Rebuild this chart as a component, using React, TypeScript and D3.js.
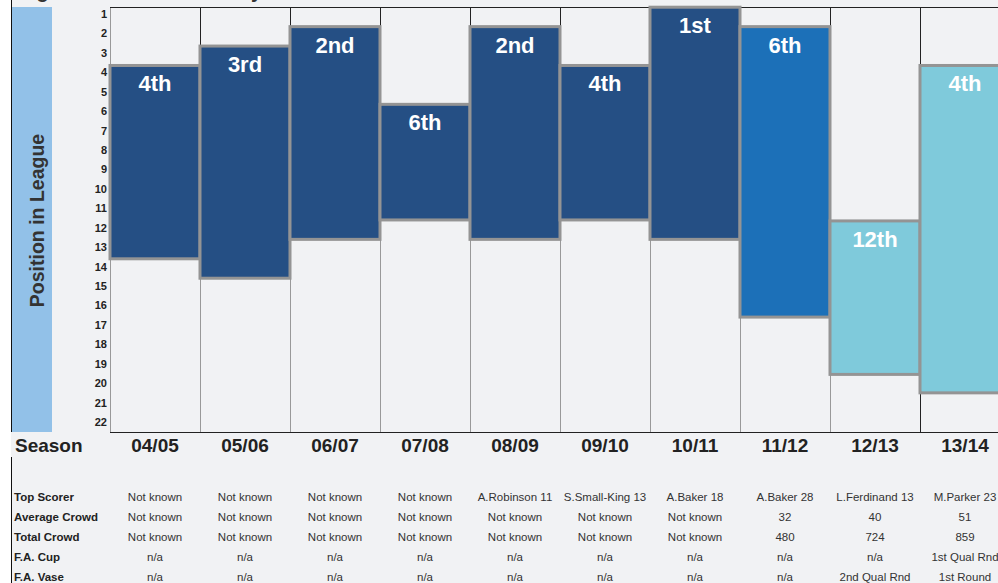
import React, { useEffect, useRef } from "react";
import * as d3 from "d3";

// seasons and league finishes
const seasons = ["04/05", "05/06", "06/07", "07/08", "08/09", "09/10", "10/11", "11/12", "12/13", "13/14"];
const finishLabels = ["4th", "3rd", "2nd", "6th", "2nd", "4th", "1st", "6th", "12th", "4th"];
// floating bar extents, in league-position units
const barTop = [3.65, 2.65, 1.65, 5.65, 1.65, 3.65, 0.65, 1.65, 11.65, 3.65];
const barBottom = [13.6, 14.6, 12.6, 11.6, 12.6, 11.6, 12.6, 16.6, 19.55, 20.5];
// which league tier the bar belongs to (picks the colour)
const barTier = [0, 0, 0, 0, 0, 0, 0, 1, 2, 2];
const positionTicks = d3.range(1, 23);

// table under the chart
const tableRowLabels = ["Top Scorer", "Average Crowd", "Total Crowd", "F.A. Cup", "F.A. Vase"];
const topScorer = ["Not known", "Not known", "Not known", "Not known", "A.Robinson 11", "S.Small-King 13", "A.Baker 18", "A.Baker 28", "L.Ferdinand 13", "M.Parker 23"];
const averageCrowd = ["Not known", "Not known", "Not known", "Not known", "Not known", "Not known", "Not known", "32", "40", "51"];
const totalCrowd = ["Not known", "Not known", "Not known", "Not known", "Not known", "Not known", "Not known", "480", "724", "859"];
const faCup = ["n/a", "n/a", "n/a", "n/a", "n/a", "n/a", "n/a", "n/a", "n/a", "1st Qual Rnd"];
const faVase = ["n/a", "n/a", "n/a", "n/a", "n/a", "n/a", "n/a", "n/a", "2nd Qual Rnd", "1st Round"];
const tableRows = [topScorer, averageCrowd, totalCrowd, faCup, faVase];

const tierColours = ["#254F84", "#1C70B8", "#7FCADB"];
const FONT = "Liberation Sans, Arial, sans-serif";

const App: React.FC = () => {
  const svgRef = useRef<SVGSVGElement | null>(null);

  useEffect(() => {
    if (!svgRef.current) return;
    const width = 998;
    const height = 583;
    const frameTop = 7;
    const frameBottom = 432;
    const plotLeft = 110;

    const svg = d3.select(svgRef.current);
    svg.selectAll("*").remove();
    svg.attr("width", width).attr("height", height);

    svg.append("rect").attr("width", width).attr("height", height).attr("fill", "#F1F2F4");
    // white strip on the far left
    svg.append("rect").attr("width", 11).attr("height", height).attr("fill", "#FFFFFF");

    const x = d3.scaleBand<string>().domain(seasons).range([plotLeft, plotLeft + 90 * seasons.length]).padding(0);
    const y = d3.scaleLinear().domain([1, 22]).range([14, 422]);

    // title, mostly above the top edge of the picture
    svg
      .append("text")
      .attr("x", 2)
      .attr("y", -2)
      .attr("font-family", FONT)
      .attr("font-weight", "bold")
      .attr("font-size", "20px")
      .attr("fill", "#333")
      .text("League Position Season by Season");

    // left border lines
    svg.append("line").attr("x1", 11.5).attr("x2", 11.5).attr("y1", 0).attr("y2", frameBottom).attr("stroke", "#111");
    svg.append("line").attr("x1", 11.5).attr("x2", 11.5).attr("y1", 457).attr("y2", height).attr("stroke", "#111");

    // blue axis-title band
    svg
      .append("rect")
      .attr("x", 12)
      .attr("y", frameTop)
      .attr("width", 40)
      .attr("height", frameBottom - frameTop)
      .attr("fill", "#92C1E8");

    svg
      .append("text")
      .attr("transform", `translate(44,${(frameTop + frameBottom) / 2 + 1}) rotate(-90)`)
      .attr("text-anchor", "middle")
      .attr("font-family", FONT)
      .attr("font-weight", "bold")
      .attr("font-size", "19.5px")
      .attr("fill", "#333")
      .text("Position in League");

    // column separators: dark above the bars, grey below
    seasons.forEach((s, i) => {
      const left = x(s)!;
      const prevTop = i > 0 ? barTop[i - 1] : barTop[i];
      const prevBottom = i > 0 ? barBottom[i - 1] : barBottom[i];
      const upper = Math.min(barTop[i], prevTop);
      const lower = Math.max(barBottom[i], prevBottom);
      svg
        .append("line")
        .attr("x1", left + 0.5)
        .attr("x2", left + 0.5)
        .attr("y1", frameTop)
        .attr("y2", y(upper))
        .attr("stroke", i === 0 ? "#999" : "#222");
      svg
        .append("line")
        .attr("x1", left + 0.5)
        .attr("x2", left + 0.5)
        .attr("y1", y(lower))
        .attr("y2", frameBottom)
        .attr("stroke", i === seasons.length - 1 ? "#222" : "#999");
    });

    // frame top and bottom
    svg
      .append("line")
      .attr("x1", plotLeft)
      .attr("x2", width)
      .attr("y1", frameTop + 0.5)
      .attr("y2", frameTop + 0.5)
      .attr("stroke", "#222");
    svg
      .append("line")
      .attr("x1", plotLeft)
      .attr("x2", width)
      .attr("y1", frameBottom + 0.5)
      .attr("y2", frameBottom + 0.5)
      .attr("stroke", "#222");

    // floating bars
    svg
      .selectAll(".finish-bar")
      .data(seasons)
      .enter()
      .append("rect")
      .attr("class", "finish-bar")
      .attr("x", (d) => x(d)!)
      .attr("y", (_, i) => y(barTop[i]))
      .attr("width", x.bandwidth())
      .attr("height", (_, i) => y(barBottom[i]) - y(barTop[i]))
      .attr("fill", (_, i) => tierColours[barTier[i]])
      .attr("stroke", "#949494")
      .attr("stroke-width", 3);

    svg
      .selectAll(".finish-label")
      .data(seasons)
      .enter()
      .append("text")
      .attr("class", "finish-label")
      .attr("x", (d) => x(d)! + x.bandwidth() / 2)
      .attr("y", (_, i) => y(barTop[i]) + 26)
      .attr("text-anchor", "middle")
      .attr("font-family", FONT)
      .attr("font-weight", "bold")
      .attr("font-size", "22px")
      .attr("fill", "#FFFFFF")
      .text((_, i) => finishLabels[i]);

    // position axis
    const axis = svg
      .append("g")
      .attr("transform", `translate(${plotLeft},0)`)
      .call(d3.axisLeft(y).tickValues(positionTicks).tickSize(0).tickPadding(3).tickFormat(d3.format("d")));
    axis.select(".domain").remove();
    axis
      .selectAll("text")
      .attr("font-family", FONT)
      .attr("font-weight", "bold")
      .attr("font-size", "11px")
      .attr("fill", "#222");

    // season row
    svg
      .append("text")
      .attr("x", 15)
      .attr("y", 452)
      .attr("font-family", FONT)
      .attr("font-weight", "bold")
      .attr("font-size", "19px")
      .attr("fill", "#222")
      .text("Season");

    svg
      .selectAll(".season-label")
      .data(seasons)
      .enter()
      .append("text")
      .attr("class", "season-label")
      .attr("x", (d) => x(d)! + x.bandwidth() / 2)
      .attr("y", 452)
      .attr("text-anchor", "middle")
      .attr("font-family", FONT)
      .attr("font-weight", "bold")
      .attr("font-size", "19px")
      .attr("fill", "#222")
      .text((d) => d);

    // table
    const rowY = d3.scalePoint<string>().domain(tableRowLabels).range([501, 581]);
    tableRowLabels.forEach((label, r) => {
      svg
        .append("text")
        .attr("x", 14)
        .attr("y", rowY(label)!)
        .attr("font-family", FONT)
        .attr("font-weight", "bold")
        .attr("font-size", "11.5px")
        .attr("fill", "#222")
        .text(label);

      svg
        .selectAll(`.cell-${r}`)
        .data(tableRows[r])
        .enter()
        .append("text")
        .attr("class", `cell-${r}`)
        .attr("x", (_, i) => x(seasons[i])! + x.bandwidth() / 2)
        .attr("y", rowY(label)!)
        .attr("text-anchor", "middle")
        .attr("font-family", FONT)
        .attr("font-size", "11.5px")
        .attr("fill", "#333")
        .text((d) => d);
    });
  }, []);

  return (
    <div>
      <style>{`body{margin:0;background:#F1F2F4;overflow:hidden}`}</style>
      <svg ref={svgRef} style={{ display: "block" }} />
    </div>
  );
};

export default App;
